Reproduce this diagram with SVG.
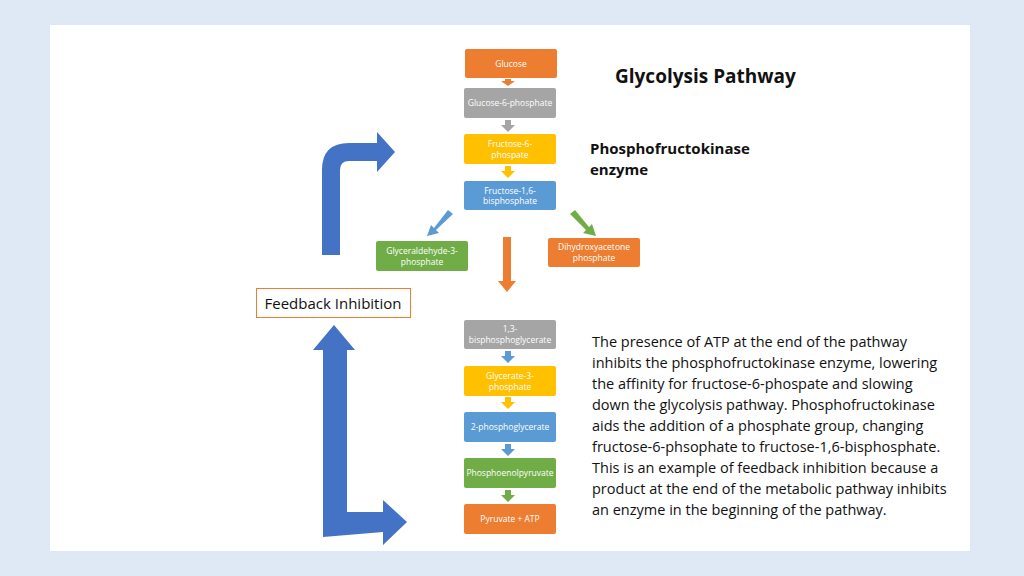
<svg xmlns="http://www.w3.org/2000/svg" width="1024" height="576" viewBox="0 0 1024 576">
<style>
.n{font-family:"Open Sans","Liberation Sans",sans-serif;font-size:8.5px;fill:#fff;text-anchor:middle}
.t{font-family:"Open Sans","Liberation Sans",sans-serif;fill:#111}
.o{fill:#ed7d31}.g{fill:#a5a5a5}.y{fill:#ffc000}.b{fill:#5b9bd5}.gr{fill:#70ad47}
</style>
<rect width="1024" height="576" fill="#dfe9f5"/>
<rect x="50" y="25" width="920" height="526" fill="#fff"/>
<g id="connectors">
<path class="o" d="M505 79h6v2h4l-7 5l-7-5h4z"/>
<path class="g" d="M505 120h6v5h4l-7 7l-7-7h4z"/>
<path class="y" d="M505 166h6v5h4l-7 7l-7-7h4z"/>
<path class="b" d="M505 351h6v5h4l-7 7l-7-7h4z"/>
<path class="y" d="M505 397h6v5h4l-7 7l-7-7h4z"/>
<path class="b" d="M505 444h6v5h4l-7 7l-7-7h4z"/>
<path class="gr" d="M505 490h6v5h4l-7 7l-7-7h4z"/>
<path class="o" d="M503 237h8v44h5l-9 11l-9-11h5z"/>
<path class="b" d="M448 210l5 4l-17 16l3 3l-12 3l4-11l3 3z"/>
<path class="gr" d="M575 210l-5 4l16 16l-3 3l13 3l-4-12l-3 3z"/>
<path fill="#4472c4" d="M322 255V170q0-27 27-27h28v-11l18 20l-18 20v-11h-28q-9 0-9 9v85z"/>
<path fill="#4472c4" d="M323 537V350h-10l21-25l21 25h-8v162h36v-12l24 22l-24 23v-13z"/>
</g>
<g id="glucose"><rect x="465" y="49" width="92" height="29" rx="2" class="o"/><text x="511" y="67" class="n">Glucose</text></g>
<g id="g6p"><rect x="464" y="88" width="92" height="30" rx="2" class="g"/><text x="510" y="106" class="n">Glucose-6-phosphate</text></g>
<g id="f6p"><rect x="464" y="134" width="92" height="30" rx="2" class="y"/><text x="510" y="147" class="n">Fructose-6-</text><text x="510" y="158" class="n">phospate</text></g>
<g id="f16bp"><rect x="464" y="181" width="92" height="29" rx="2" class="b"/><text x="510" y="194" class="n">Fructose-1,6-</text><text x="510" y="204" class="n">bisphosphate</text></g>
<g id="g3p"><rect x="376" y="241" width="92" height="30" rx="2" class="gr"/><text x="422" y="254" class="n">Glyceraldehyde-3-</text><text x="422" y="265" class="n">phosphate</text></g>
<g id="dhap"><rect x="548" y="238" width="92" height="29" rx="2" class="o"/><text x="594" y="250" class="n">Dihydroxyacetone</text><text x="594" y="261" class="n">phosphate</text></g>
<g id="bpg"><rect x="464" y="320" width="92" height="29" rx="2" class="g"/><text x="510" y="332" class="n">1,3-</text><text x="510" y="343" class="n">bisphosphoglycerate</text></g>
<g id="g3p2"><rect x="464" y="366" width="92" height="30" rx="2" class="y"/><text x="510" y="379" class="n">Glycerate-3-</text><text x="510" y="390" class="n">phosphate</text></g>
<g id="pg2"><rect x="464" y="412" width="92" height="30" rx="2" class="b"/><text x="510" y="430" class="n">2-phosphoglycerate</text></g>
<g id="pep"><rect x="464" y="458" width="92" height="30" rx="2" class="gr"/><text x="510" y="476" class="n">Phosphoenolpyruvate</text></g>
<g id="pyr"><rect x="464" y="504" width="92" height="30" rx="2" class="o"/><text x="510" y="522" class="n">Pyruvate + ATP</text></g>
<g id="feedback"><rect x="256.5" y="288.5" width="154" height="29" fill="#fff" stroke="#ed7d31"/><text x="333" y="309" class="t" font-size="15" text-anchor="middle">Feedback Inhibition</text></g>
<text x="615" y="83" class="t" font-size="19" font-weight="bold">Glycolysis Pathway</text>
<text class="t" font-size="15" font-weight="bold"><tspan x="590" y="154">Phosphofructokinase</tspan><tspan x="590" y="175">enzyme</tspan></text>
<text class="t" font-size="14.5"><tspan x="592" y="347">The presence of ATP at the end of the pathway</tspan><tspan x="592" y="368">inhibits the phosphofructokinase enzyme, lowering</tspan><tspan x="592" y="389">the affinity for fructose-6-phospate and slowing</tspan><tspan x="592" y="410">down the glycolysis pathway. Phosphofructokinase</tspan><tspan x="592" y="431">aids the addition of a phosphate group, changing</tspan><tspan x="592" y="452">fructose-6-phsophate to fructose-1,6-bisphosphate.</tspan><tspan x="592" y="473">This is an example of feedback inhibition because a</tspan><tspan x="592" y="494">product at the end of the metabolic pathway inhibits</tspan><tspan x="592" y="515">an enzyme in the beginning of the pathway.</tspan></text>
</svg>
